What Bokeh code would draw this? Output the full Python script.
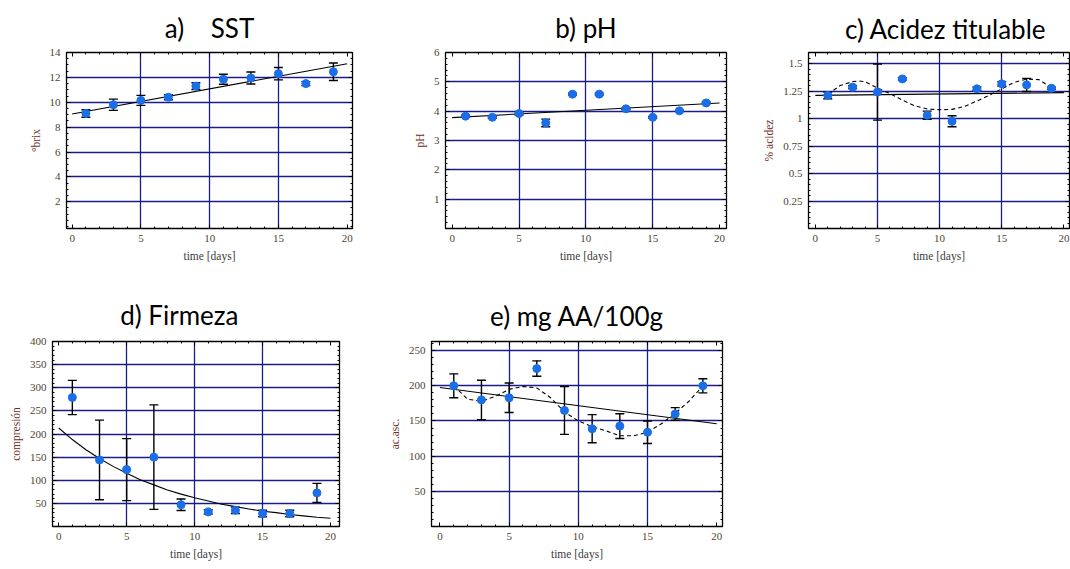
from bokeh.plotting import figure
from bokeh.models import (Range1d, FixedTicker, LinearAxis, Whisker, TeeHead,
                          ColumnDataSource, Title, CustomJSTickFormatter,
                          CustomLabelingPolicy)
from bokeh.layouts import column, row
from bokeh.embed import file_html
from bokeh.resources import INLINE

# ---------------- data ----------------
days = [1, 3, 5, 7, 9, 11, 13, 15, 17, 19]

sst = [9.1, 9.8, 10.15, 10.4, 11.3, 11.85, 11.95, 12.3, 11.5, 12.45]
sst_err = [0.3, 0.45, 0.4, 0.2, 0.27, 0.4, 0.48, 0.5, 0.16, 0.7]
sst_fit_x = [0, 20]
sst_fit_y = [9.05, 13.1]

ph = [3.83, 3.79, 3.92, 3.6, 4.58, 4.58, 4.08, 3.79, 4.01, 4.28]
ph_err = [0.03, 0.03, 0.05, 0.13, 0.03, 0.03, 0.03, 0.03, 0.02, 0.03]
ph_fit_x = [0, 20]
ph_fit_y = [3.78, 4.28]

acid = [1.21, 1.285, 1.24, 1.36, 1.03, 0.975, 1.27, 1.315, 1.305, 1.275]
acid_err = [0.03, 0.013, 0.255, 0.01, 0.037, 0.05, 0.015, 0.02, 0.06, 0.01]
acid_fit_x = [0, 20]
acid_fit_y = [1.21, 1.235]
acid_curve_x = [1, 2, 3, 3.5, 4, 5, 6, 7, 8, 9, 10, 11, 12, 13, 14, 15, 16, 17, 18, 19]
acid_curve_y = [1.22, 1.30, 1.335, 1.341, 1.335, 1.277, 1.227, 1.168, 1.115, 1.086,
                1.08, 1.083, 1.109, 1.159, 1.212, 1.27, 1.329, 1.359, 1.353, 1.28]

firm = [279, 144, 123, 150, 47, 31.6, 35, 28, 28, 72.7]
firm_err = [37, 86, 67, 113, 12.5, 4.5, 7, 7, 7, 20.5]
firm_curve_x = list(range(0, 21))
firm_curve_y = [213, 188, 166, 147, 130, 115, 101, 90, 79, 70, 62, 55, 48, 43,
                38, 33, 30, 26, 23, 20, 18]

aa = [200, 180, 183, 224.5, 165, 139, 142.7, 134, 160, 200]
aa_err = [17, 28, 21, 11, 34, 20, 17.5, 16, 9, 10]
aa_fit_x = [0, 20]
aa_fit_y = [197.5, 146]
aa_curve_x = [1, 2, 3, 4, 5, 6, 7, 8, 9, 10, 11, 12, 13, 14, 15, 16, 17, 18, 19]
aa_curve_y = [200, 181, 178, 185, 195, 199, 197, 183, 163, 150, 142, 136, 129,
              129, 134, 146, 161, 178, 200]

x_major = [0, 5, 10, 15, 20]
x_minor = list(range(0, 21))
x_grid = [5, 10, 15]

GRID = "#1c1c88"
DOT = "#1a6fe8"
TICKLAB = "#4e4530"
YLAB = "#6b2f1f"
XLAB = "#3c3c3c"
SERIF = "Liberation Serif"
TITLEFONT = "Lato"
NB = "\u00a0"


def make_panel(w, h, bl, br, bt, bb, xr, yr, ymajor, yminor, ygrid, ylabel,
               title, t_standoff, xs, ys, errs, solid, dashed=None):
    p = figure(width=w, height=h, x_range=Range1d(*xr), y_range=Range1d(*yr),
               output_backend="svg", toolbar_location=None, title=None,
               min_border_left=bl, min_border_right=br,
               min_border_top=bt, min_border_bottom=bb)
    p.background_fill_color = "white"
    p.border_fill_color = "white"
    p.outline_line_color = "black"
    p.outline_line_width = 1.3

    fmt = CustomJSTickFormatter(code="return tick.toString()")
    xt = FixedTicker(ticks=x_major, minor_ticks=x_minor)
    yt = FixedTicker(ticks=ymajor, minor_ticks=yminor)

    def style(ax, show_labels):
        ax.major_tick_in = 4
        ax.major_tick_out = 0
        ax.minor_tick_in = 2
        ax.minor_tick_out = 0
        ax.axis_line_color = "black"
        ax.major_tick_line_color = "black"
        ax.minor_tick_line_color = "black"
        if show_labels:
            ax.major_label_text_font = SERIF
            ax.major_label_text_font_size = "11px"
            ax.major_label_text_color = TICKLAB
            ax.major_label_standoff = 6
            ax.axis_label_text_font = SERIF
            ax.axis_label_text_font_size = "11.5px"
            ax.axis_label_text_font_style = "normal"
            ax.axis_label_standoff = 5
        else:
            ax.major_label_text_font_size = "0px"
            ax.major_label_standoff = 0
            ax.major_label_policy = CustomLabelingPolicy(code="return []")

    p.xaxis.ticker = xt
    p.xaxis.formatter = fmt
    p.xaxis.axis_label = "time [days]"
    style(p.xaxis[0], True)
    p.xaxis.axis_label_text_color = XLAB

    p.yaxis.ticker = yt
    p.yaxis.formatter = fmt
    p.yaxis.axis_label = ylabel
    style(p.yaxis[0], True)
    p.yaxis.axis_label_text_color = YLAB

    top = LinearAxis(ticker=FixedTicker(ticks=x_major, minor_ticks=x_minor))
    style(top, False)
    p.add_layout(top, "above")
    right = LinearAxis(ticker=FixedTicker(ticks=ymajor, minor_ticks=yminor))
    style(right, False)
    p.add_layout(right, "right")

    p.xgrid.ticker = FixedTicker(ticks=x_grid)
    p.ygrid.ticker = FixedTicker(ticks=ygrid)
    for g in (p.xgrid[0], p.ygrid[0]):
        g.grid_line_color = GRID
        g.grid_line_width = 1.3
        g.grid_line_alpha = 1.0

    # panel title (outermost panel above the frame)
    p.add_layout(Title(text=title, align="center", text_font=TITLEFONT,
                       text_font_size="26px", text_font_style="normal",
                       text_color="black", standoff=t_standoff), "above")

    # fitted lines
    p.line(solid[0], solid[1], line_color="black", line_width=1.1)
    if dashed is not None:
        p.line(dashed[0], dashed[1], line_color="black", line_width=1.1,
               line_dash="4 3")

    src = ColumnDataSource(dict(
        x=xs, y=ys,
        upper=[v + e for v, e in zip(ys, errs)],
        lower=[v - e for v, e in zip(ys, errs)]))
    wk = Whisker(source=src, base="x", upper="upper", lower="lower",
                 line_color="black", line_width=1.4,
                 upper_head=TeeHead(size=9, line_color="black", line_width=1.4),
                 lower_head=TeeHead(size=9, line_color="black", line_width=1.4))
    p.add_layout(wk)
    p.scatter("x", "y", source=src, size=8, fill_color=DOT, line_color=DOT)
    return p


def frange(a, b, s):
    out = []
    v = a
    while v <= b + 1e-9:
        out.append(round(v, 4))
        v += s
    return out


TOP_H, BOT_H = 285, 284

pa = make_panel(398, TOP_H, 66, 46, 52, 57, (-0.41, 20.39), (-0.15, 14),
                [2, 4, 6, 8, 10, 12, 14], frange(0, 14, 0.5), [2, 4, 6, 8, 10, 12],
                "°brix", "a)" + NB * 4 + "SST", 18,
                days, sst, sst_err, (sst_fit_x, sst_fit_y))

pb = make_panel(362, TOP_H, 47, 34, 52, 57, (-0.5, 20.52), (0, 6),
                [1, 2, 3, 4, 5, 6], frange(0, 6, 0.2), [1, 2, 3, 4, 5],
                "pH", "b) pH", 18,
                days, ph, ph_err, (ph_fit_x, ph_fit_y))

pc = make_panel(310, TOP_H, 43, 1, 52, 57, (-0.55, 20.45), (0, 1.6),
                [0.25, 0.5, 0.75, 1, 1.25, 1.5], frange(0, 1.6, 0.05),
                [0.25, 0.5, 0.75, 1, 1.25, 1.5],
                "% acidez", NB * 2 + "c) Acidez titulable", 15,
                days, acid, acid_err, (acid_fit_x, acid_fit_y),
                (acid_curve_x, acid_curve_y))

pd_ = make_panel(385, BOT_H, 52, 46, 56, 43, (-0.46, 20.66), (0, 400),
                 [50, 100, 150, 200, 250, 300, 350, 400], frange(0, 400, 10),
                 [50, 100, 150, 200, 250, 300, 350],
                 "compresión", "d) Firmeza" + NB * 5, 21,
                 days, firm, firm_err, (firm_curve_x, firm_curve_y))

pe = make_panel(685, BOT_H, 39, 348, 56, 43, (-0.61, 20.42), (0, 263),
                [50, 100, 150, 200, 250], frange(0, 260, 10),
                [50, 100, 150, 200, 250],
                "ac.asc.", "e) mg AA/100g", 19,
                days, aa, aa_err, (aa_fit_x, aa_fit_y), (aa_curve_x, aa_curve_y))

layout = column(row(pa, pb, pc, spacing=0), row(pd_, pe, spacing=0), spacing=0)

open("out.html", "w").write(file_html(layout, INLINE))
